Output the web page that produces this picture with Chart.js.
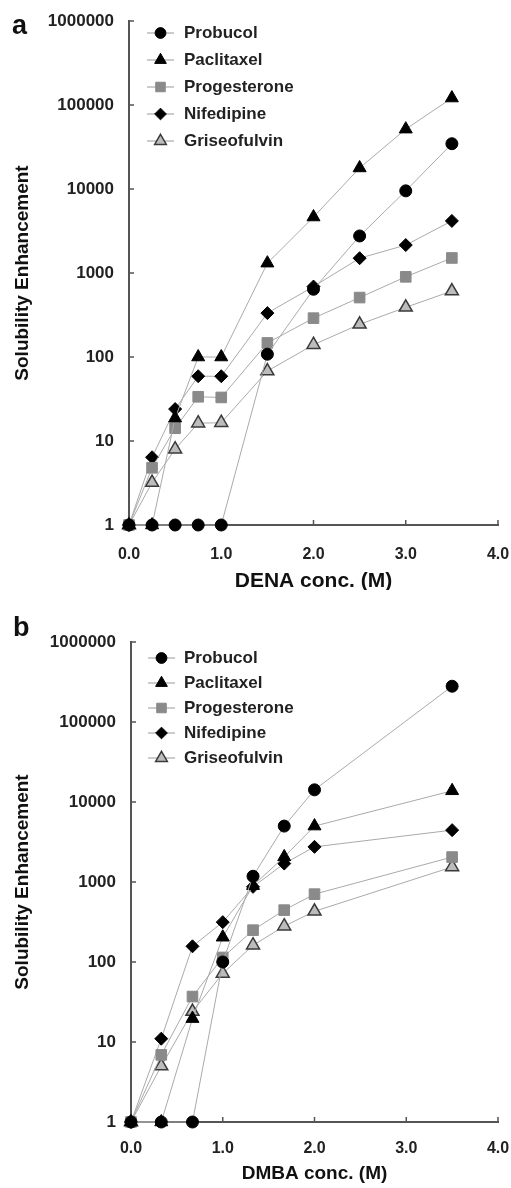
<!DOCTYPE html>
<html>
<head>
<meta charset="utf-8">
<script src="https://cdn.jsdelivr.net/npm/chart.js@4.4.1/dist/chart.umd.min.js"></script>
<style>
  body { margin: 0; background: #fff; width: 511px; height: 1188px; position: relative; overflow: hidden; }
  .panel { position: absolute; left: 0; width: 511px; }
  #pa { top: 0; height: 590px; }
  #pb { top: 590px; height: 598px; }
  .tag { position: absolute; font: bold 27px "Liberation Sans", Arial, sans-serif; color: #111; line-height: 1; }
</style>
</head>
<body>
<div class="panel" id="pa"><canvas id="chartA"></canvas></div>
<div class="panel" id="pb"><canvas id="chartB"></canvas></div>
<div class="tag" style="left:12px;top:12px">a</div>
<div class="tag" style="left:13px;top:614px">b</div>
<script>
// Solubility enhancement vs hydrotrope concentration
const drugs = ["Probucol", "Paclitaxel", "Progesterone", "Nifedipine", "Griseofulvin"];

// panel a: DENA
const denaConc = [0, 0.25, 0.5, 0.75, 1.0, 1.5, 2.0, 2.5, 3.0, 3.5];
const denaProbucol     = [1, 1, 1, 1, 1, 108, 640, 2760, 9500, 34600];
const denaPaclitaxel   = [1, 1, 18.7, 100, 100, 1310, 4640, 17800, 51600, 121000];
const denaProgesterone = [1, 4.8, 14.2, 33.6, 33, 147, 290, 510, 900, 1510];
const denaNifedipine   = [1, 6.4, 24, 59, 59, 333, 690, 1500, 2150, 4170];
const denaGriseofulvin = [1, 3.2, 8, 16.3, 16.5, 68, 140, 245, 390, 610];

// panel b: DMBA
const dmbaConc = [0, 0.33, 0.67, 1.0, 1.33, 1.67, 2.0, 3.5];
const dmbaProbucol     = [1, 1, 1, 100, 1180, 5000, 14200, 280000];
const dmbaPaclitaxel   = [1, 1, 19.6, 204, 900, 2060, 5000, 13800];
const dmbaProgesterone = [1, 6.9, 37, 114, 250, 445, 705, 2050];
const dmbaNifedipine   = [1, 11, 157, 315, 870, 1700, 2750, 4450];
const dmbaGriseofulvin = [1, 5, 24, 72, 162, 280, 430, 1540];

const yTicks = [1, 10, 100, 1000, 10000, 100000, 1000000];
const xTicks = [0, 1, 2, 3, 4];

const FONT = '"Liberation Sans", Arial, sans-serif';

// marker look per drug
const markers = [
  { pointStyle: "circle",   radius: 6,   fill: "#000",    edge: "#000", bw: 1 },
  { pointStyle: "triangle", radius: 7.5, fill: "#000",    edge: "#000", bw: 1 },
  { pointStyle: "rect",     radius: 7.5, fill: "#8a8a8a", edge: "#8a8a8a", bw: 1 },
  { pointStyle: "rectRot",  radius: 6.5, fill: "#000",    edge: "#000", bw: 1 },
  { pointStyle: "triangle", radius: 7.5, fill: "#bcbcbc", edge: "#3a3a3a", bw: 1.5 }
];

// small tick marks pointing into the plot
const innerTicks = {
  id: "innerTicks",
  beforeDatasetsDraw(chart) {
    const { ctx, chartArea: a, scales: { x, y } } = chart;
    ctx.save();
    ctx.strokeStyle = "#555";
    ctx.lineWidth = 1.5;
    ctx.beginPath();
    y.ticks.forEach(t => {
      const py = y.getPixelForValue(t.value);
      ctx.moveTo(a.left, py);
      ctx.lineTo(a.left + 5, py);
    });
    x.ticks.forEach(t => {
      if (t.value === 0) return;
      const px = x.getPixelForValue(t.value);
      ctx.moveTo(px, a.bottom);
      ctx.lineTo(px, a.bottom - 5);
    });
    ctx.stroke();
    ctx.restore();
  }
};

// legend drawn inside the plot, line + marker + name
const innerLegend = {
  id: "innerLegend",
  afterDraw(chart, args, opts) {
    const ctx = chart.ctx;
    chart.data.datasets.forEach((ds, i) => {
      const yy = opts.top + i * opts.step;
      ctx.save();
      ctx.strokeStyle = "#999";
      ctx.lineWidth = 1;
      ctx.beginPath();
      ctx.moveTo(opts.x1, yy);
      ctx.lineTo(opts.x2, yy);
      ctx.stroke();
      ctx.fillStyle = ds.pointBackgroundColor;
      ctx.strokeStyle = ds.pointBorderColor;
      ctx.lineWidth = ds.pointBorderWidth;
      Chart.helpers.drawPoint(ctx, {
        pointStyle: ds.pointStyle, radius: ds.pointRadius * 0.9,
        borderWidth: ds.pointBorderWidth, rotation: 0
      }, (opts.x1 + opts.x2) / 2, yy);
      ctx.fillStyle = "#222";
      ctx.font = "bold 17px " + FONT;
      ctx.textBaseline = "middle";
      ctx.textAlign = "left";
      ctx.fillText(ds.label, opts.tx, yy);
      ctx.restore();
    });
  }
};

function buildChart(id, xTitle, conc, series, geo) {
  const datasets = drugs.map((name, i) => ({
    label: name,
    data: conc.map((x, j) => ({ x: x, y: series[i][j] })),
    borderColor: "#aaa",
    borderWidth: 1,
    tension: 0,
    clip: false,
    pointStyle: markers[i].pointStyle,
    pointRadius: markers[i].radius,
    pointBackgroundColor: markers[i].fill,
    pointBorderColor: markers[i].edge,
    pointBorderWidth: markers[i].bw
  }));

  return new Chart(document.getElementById(id), {
    type: "line",
    data: { datasets: datasets },
    options: {
      responsive: true,
      maintainAspectRatio: false,
      animation: false,
      layout: { padding: { top: geo.top, right: 13, left: 0, bottom: 0 } },
      plugins: {
        legend: { display: false },
        tooltip: { enabled: false },
        innerLegend: geo.legend
      },
      scales: {
        x: {
          type: "linear",
          min: 0,
          max: 4,
          afterBuildTicks: s => { s.ticks = xTicks.map(v => ({ value: v })); },
          afterFit: s => { s.height = geo.xh; s.paddingLeft = 0; s.paddingRight = 0; },
          ticks: {
            autoSkip: false, maxRotation: 0, padding: geo.xpad,
            color: "#222", font: { size: 16, weight: "bold", family: FONT },
            callback: v => Number(v).toFixed(1)
          },
          grid: { display: false, drawTicks: false },
          border: { display: true, color: "#555", width: 2 },
          title: {
            display: true, text: xTitle, color: "#111",
            font: { size: geo.tsize, weight: "bold", family: FONT },
            padding: { top: 0, bottom: geo.tpad }
          }
        },
        y: {
          type: "logarithmic",
          min: 1,
          max: 1000000,
          afterBuildTicks: s => { s.ticks = yTicks.map(v => ({ value: v })); },
          afterFit: s => { s.width = geo.yw; s.paddingTop = 0; s.paddingBottom = 0; },
          ticks: {
            autoSkip: false, padding: 15,
            color: "#222", font: { size: 17, weight: "bold", family: FONT },
            callback: v => String(v)
          },
          grid: { display: false, drawTicks: false },
          border: { display: true, color: "#555", width: 2 },
          title: {
            display: true, text: "Solubility Enhancement", color: "#111",
            font: { size: 19, weight: "bold", family: FONT },
            padding: { top: 11, bottom: 0 }
          }
        }
      }
    },
    plugins: [innerTicks, innerLegend]
  });
}

buildChart("chartA", "DENA conc. (M)", denaConc,
  [denaProbucol, denaPaclitaxel, denaProgesterone, denaNifedipine, denaGriseofulvin],
  { top: 21, xh: 65, yw: 129, xpad: 20, tsize: 21, tpad: -4,
    legend: { x1: 147, x2: 174, tx: 184, top: 33, step: 27 } });

buildChart("chartB", "DMBA conc. (M)", dmbaConc,
  [dmbaProbucol, dmbaPaclitaxel, dmbaProgesterone, dmbaNifedipine, dmbaGriseofulvin],
  { top: 52, xh: 66, yw: 131, xpad: 17, tsize: 19, tpad: 3,
    legend: { x1: 148, x2: 175, tx: 184, top: 68, step: 25 } });
</script>
</body>
</html>
